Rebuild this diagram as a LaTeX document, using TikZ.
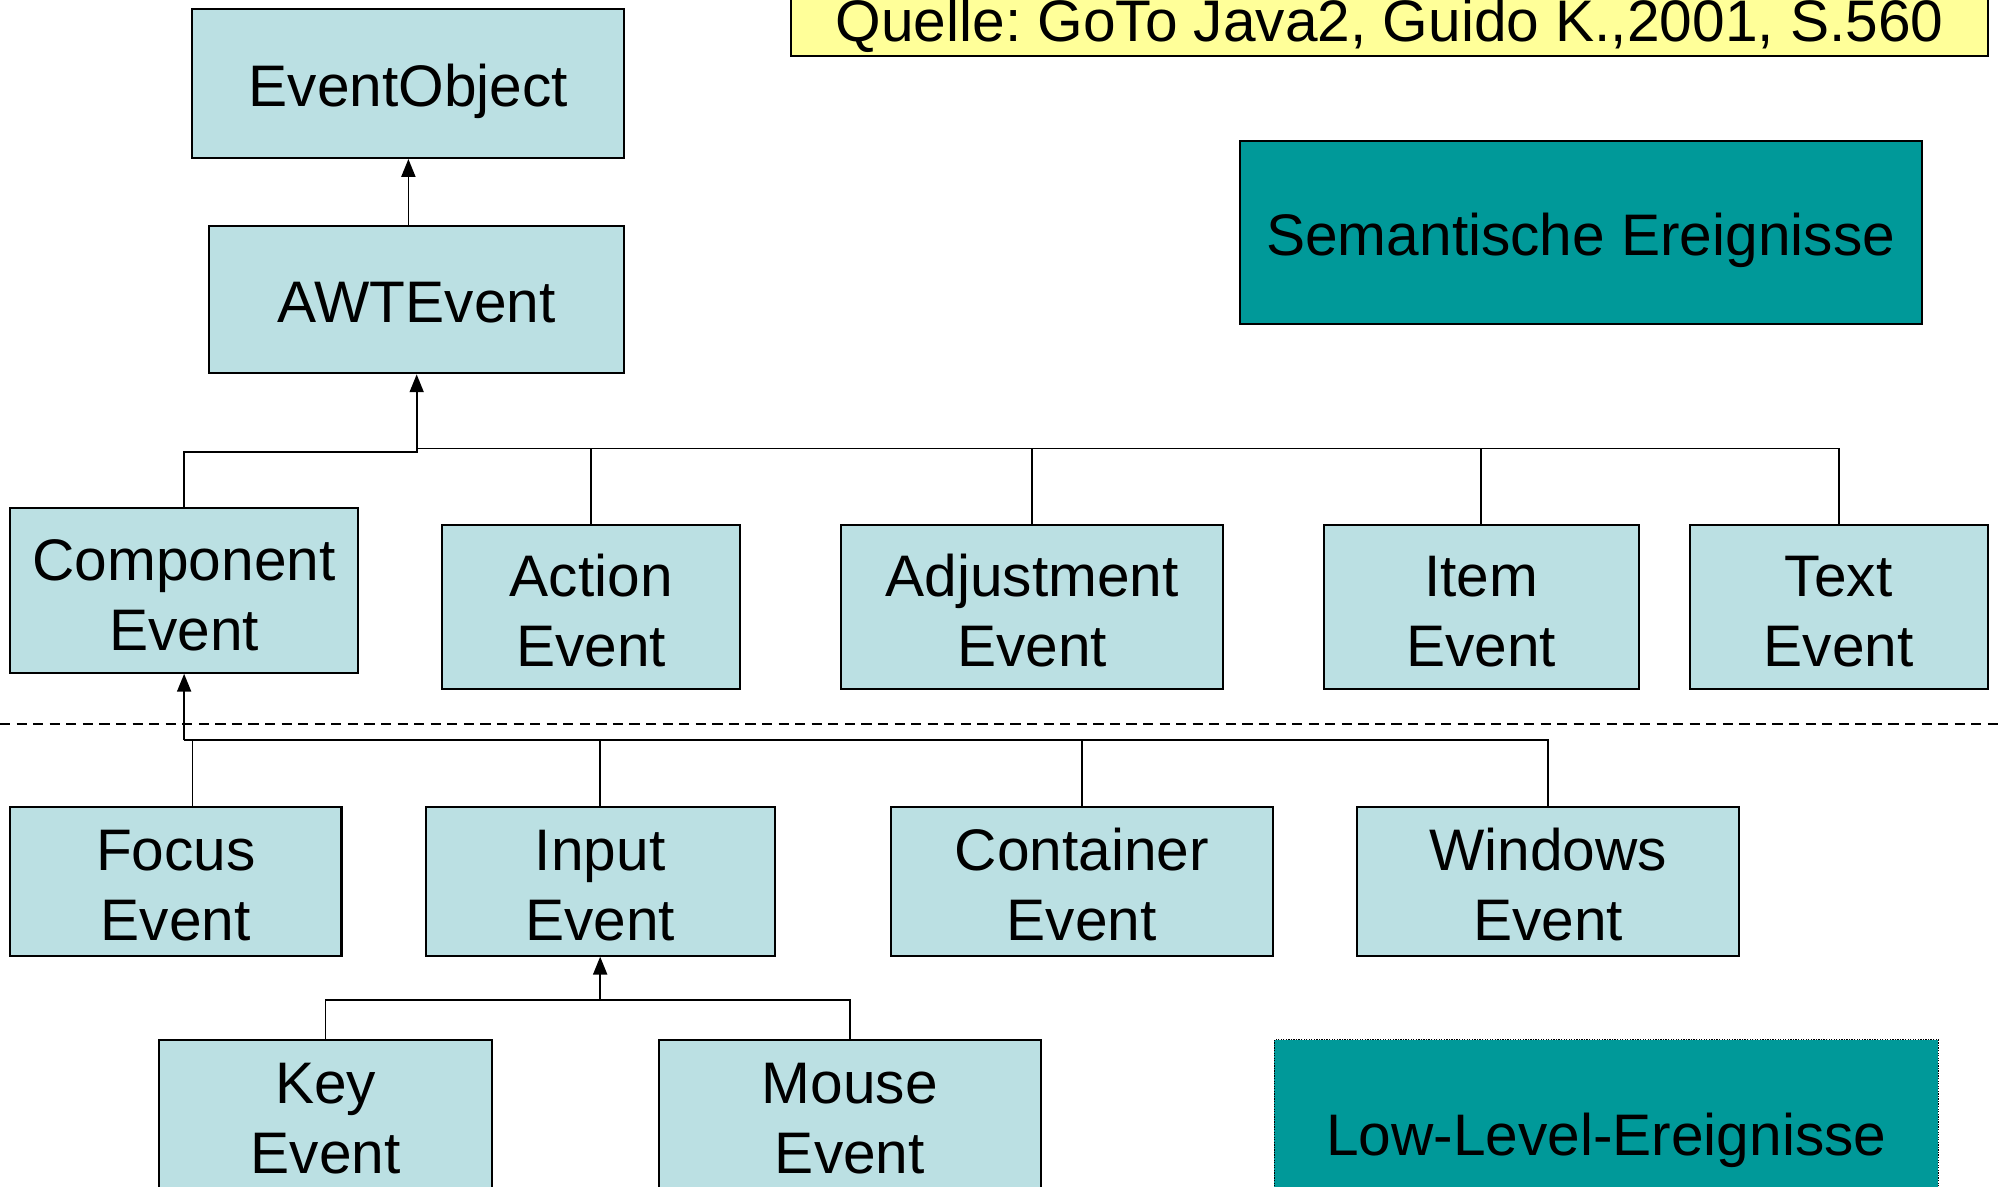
\documentclass[tikz,border=0pt]{standalone}
\usepackage{fontspec}
\setmainfont{Liberation Sans}
\frenchspacing
\usetikzlibrary{arrows.meta,calc}
\definecolor{boxblue}{HTML}{BBE0E3}
\definecolor{teal2}{HTML}{009999}
\definecolor{srcyellow}{HTML}{FFFF99}
\newcommand\tstrut{\rule{0pt}{39pt}}
\begin{document}
\begin{tikzpicture}[x=1pt,y=1pt,
  every node/.style={font=\fontsize{46pt}{55pt}\selectfont, inner sep=0pt},
  cls/.style={draw=black, line width=1.6pt, fill=boxblue, align=center},
  oneline/.style={text height=36pt, text depth=0pt},
  conn/.style={draw=black, line width=1.4pt},
  arr/.style={conn, -{Triangle[length=14pt,width=11pt]}}]
\useasboundingbox (0,0) rectangle (1568,-931);
\clip (0,0) rectangle (1568,-931);
% source box
\node (src) [draw=black, line width=1.6pt, fill=srcyellow, minimum width=939pt,
  text height=50pt, text depth=12pt, anchor=south] at (1090.5,-45) {Quelle: GoTo Java2, Guido K.,2001, S.560};
% level 0/1
\node (eo)  [cls, oneline, minimum width=339pt, minimum height=117pt] at (320.5,-65.5) {EventObject};
\node (awt) [cls, oneline, minimum width=326pt, minimum height=116pt] at (327,-235) {AWTEvent};
\node (sem) [draw=black, line width=1.6pt, fill=teal2, oneline, minimum width=535pt, minimum height=143pt] at (1240.5,-182.5) {Semantische Ereignisse};
% semantic events
\node (comp) [cls, minimum width=273pt, minimum height=129pt] at (144.5,-463.5) {\tstrut Component\\Event};
\node (act)  [cls, minimum width=234pt, minimum height=129pt] at (464,-476.5) {\tstrut Action\\Event};
\node (adj)  [cls, minimum width=300pt, minimum height=129pt] at (810,-476.5) {\tstrut Adjustment\\Event};
\node (item) [cls, minimum width=247pt, minimum height=129pt] at (1162.5,-476.5) {\tstrut Item\\Event};
\node (text) [cls, minimum width=234pt, minimum height=129pt] at (1443,-476.5) {\tstrut Text\\Event};
% low level events
\node (foc)  [cls, minimum width=260pt, minimum height=117pt] at (138,-691.5) {\tstrut Focus\\Event};
\node (inp)  [cls, minimum width=274pt, minimum height=117pt] at (471,-691.5) {\tstrut Input\\Event};
\node (cont) [cls, minimum width=300pt, minimum height=117pt] at (849,-691.5) {\tstrut Container\\Event};
\node (win)  [cls, minimum width=300pt, minimum height=117pt] at (1215,-691.5) {\tstrut Windows\\Event};
\node (key)  [cls, minimum width=261pt, minimum height=117pt] at (255.5,-874.5) {\tstrut Key\\Event};
\node (mou)  [cls, minimum width=300pt, minimum height=117pt] at (667,-874.5) {\tstrut Mouse\\Event};
\node (low)  [draw=black, densely dotted, line width=1pt, fill=teal2, oneline, minimum width=521pt, minimum height=146pt] at (1260.5,-889) {Low-Level-Ereignisse};
% connectors level 0/1
\draw[arr] (awt.north -| eo.south) -- (eo.south);
\coordinate (b1) at (327,-352);
\coordinate (b1c) at (327,-355);
\draw[arr] (b1) -- (awt.south);
\draw[conn] (comp.north) |- (b1c) -- (b1);
\draw[conn] (b1) -| (act.north);
\draw[conn] (b1) -| (adj.north);
\draw[conn] (b1) -| (item.north);
\draw[conn] (b1) -| (text.north);
% separator
\coordinate (sepL) at (0,-568);
\coordinate (sepR) at (1568,-568);
\draw[line width=1.3pt, dash pattern=on 8pt off 5pt] (sepL) -- (sepR);
% connectors low level
\coordinate (b2) at (144.5,-581);
\coordinate (b2f) at (151,-581);
\draw[arr] (b2) -- (comp.south);
\draw[conn] (b2) -- (b2f) -- (b2f |- foc.north);
\draw[conn] (b2) -| (inp.north);
\draw[conn] (b2) -| (cont.north);
\draw[conn] (b2) -| (win.north);
\coordinate (b3) at (471,-785);
\draw[arr] (b3) -- (inp.south);
\draw[conn] (b3) -| (key.north);
\draw[conn] (b3) -| (mou.north);
\end{tikzpicture}
\end{document}
